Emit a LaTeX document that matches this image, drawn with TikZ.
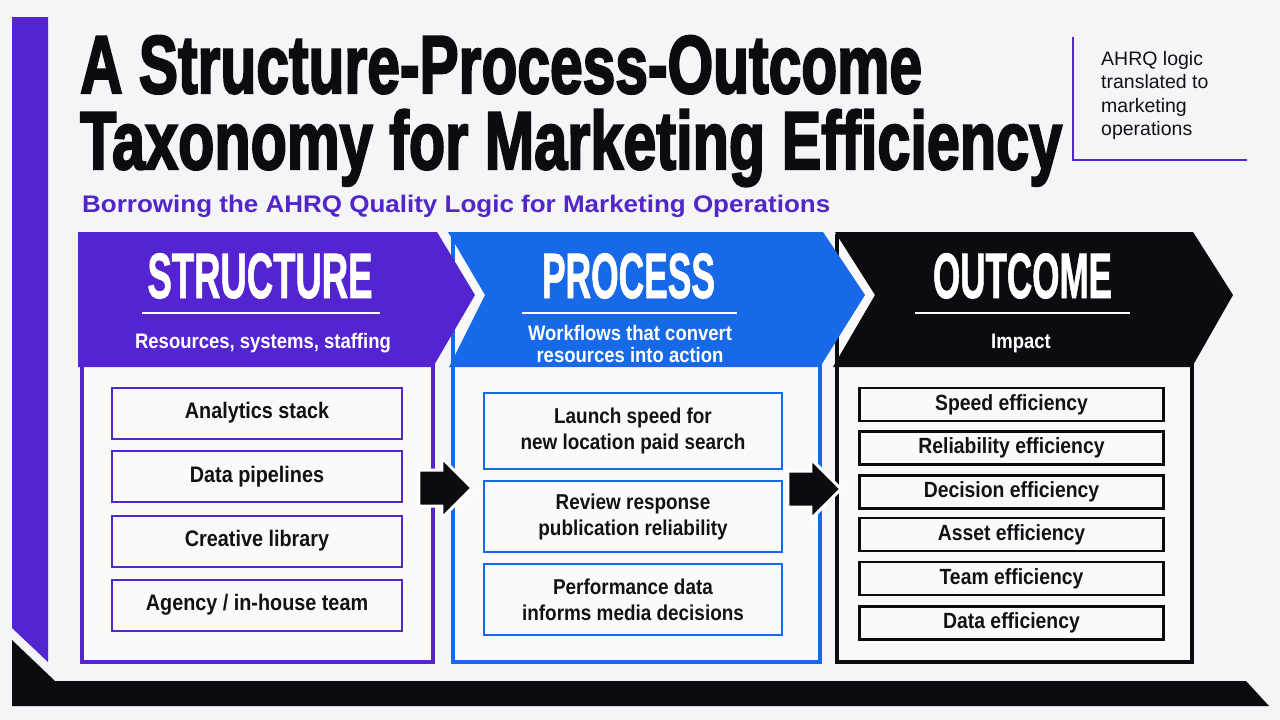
\documentclass[tikz,border=0pt]{standalone}
\usepackage{fontspec}
\usepackage{graphicx}
\setmainfont{Liberation Sans}
\newfontfamily\titlef[BoldFeatures={FakeBold=3}]{Liberation Sans}
\newfontfamily\headf[BoldFeatures={FakeBold=1.5}]{Liberation Sans}
\newfontfamily\bodyf[FakeStretch=0.88]{Liberation Sans}
\newfontfamily\notef{Liberation Sans}
\usetikzlibrary{shapes.arrows}
\definecolor{bg}{HTML}{F4F5F7}
\definecolor{purp}{HTML}{5424D0}
\definecolor{subpurp}{HTML}{5326C8}
\definecolor{blu}{HTML}{1769E8}
\definecolor{ink}{HTML}{0B0B10}
\definecolor{txt}{HTML}{121216}
\definecolor{boxbg}{HTML}{FAFAFB}
\begin{document}
\begin{tikzpicture}[x=1pt,y=-1pt,
  panel/.style={rectangle, line width=4pt, fill=boxbg, inner sep=0pt, anchor=north west},
  sitem/.style={rectangle, draw=purp, line width=2pt, fill=boxbg, minimum width=290pt, minimum height=51pt, inner sep=0pt, text=txt, font=\bodyf\bfseries\fontsize{22.5}{26}\selectfont},
  pitem/.style={rectangle, draw=blu, line width=2pt, fill=boxbg, minimum width=298pt, inner sep=0pt, text=txt, align=center, font=\bodyf\bfseries\fontsize{21.5}{26}\selectfont},
  oitem/.style={rectangle, draw=ink, line width=2.5pt, fill=boxbg, minimum width=304pt, minimum height=33pt, inner sep=0pt, text=txt, font=\bodyf\bfseries\fontsize{22}{26}\selectfont},
  headtxt/.style={inner sep=0pt, anchor=base, text=white},
  subtxt/.style={inner sep=0pt, text=white, align=center, font=\bodyf\bfseries\fontsize{21}{22}\selectfont},
  rule/.style={white, line width=2pt},
  blockarrow/.style={single arrow, fill=ink, draw=white, line width=3pt, inner xsep=0pt, inner ysep=16.5pt, minimum height=53pt, single arrow head extend=12pt, anchor=tip}
]
\useasboundingbox (0,0) rectangle (1280,720);
\fill[bg] (0,0) rectangle (1280,720);

% side and bottom bars
\fill[purp] (12,17) -- (48,17) -- (48,662) -- (12,628) -- cycle;
\fill[ink] (12,640) -- (55,681) -- (1246,681) -- (1269,706) -- (12,706) -- cycle;

% title
\node[anchor=base west, inner sep=0pt, text=ink] (t1) at (80,93)
  {\resizebox{842pt}{\height}{\titlef\bfseries\fontsize{82}{82}\selectfont A Structure-Process-Outcome}};
\node[anchor=base west, inner sep=0pt, text=ink] (t2) at (80,169)
  {\resizebox{982pt}{\height}{\titlef\bfseries\fontsize{82}{82}\selectfont Taxonomy for Marketing Efficiency}};
\node[anchor=base west, inner sep=0pt, text=subpurp] (sub) at (82,212)
  {\resizebox{748pt}{\height}{\notef\bfseries\fontsize{24}{24}\selectfont Borrowing the AHRQ Quality Logic for Marketing Operations}};

% side note
\draw[purp, line width=1.5pt] (1073,37) -- (1073,160) -- (1247,160);
\node[anchor=north west, inner sep=0pt, text=txt, align=left, font=\notef\fontsize{19.5}{23.5}\selectfont] (note) at (1101,51)
  {AHRQ logic\\translated to\\marketing\\operations};

% panels
\node[panel, draw=purp, minimum width=351pt, minimum height=426pt] (sp) at (80,234) {};
\node[panel, draw=blu, minimum width=367pt, minimum height=426pt] (pp) at (451,234) {};
\node[panel, draw=ink, minimum width=355pt, minimum height=426pt] (op) at (835,234) {};

% chevrons
\fill[purp] (78,232) -- (437,232) -- (475,295) -- (433,367) -- (78,367) -- cycle;
\fill[blu] (448,232) -- (823,232) -- (865,295) -- (820,367) -- (449,367) -- (485,295) -- cycle;
\fill[ink] (835,232) -- (1193,232) -- (1233,295) -- (1192,367) -- (833,367) -- (875,295) -- cycle;

% header texts
\node[headtxt] (sh) at (260,298) {\resizebox{225pt}{\height}{\headf\bfseries\fontsize{64}{64}\selectfont STRUCTURE}};
\node[headtxt] (ph) at (628.5,298) {\resizebox{173pt}{\height}{\headf\bfseries\fontsize{64}{64}\selectfont PROCESS}};
\node[headtxt] (oh) at (1022.5,298) {\resizebox{179pt}{\height}{\headf\bfseries\fontsize{64}{64}\selectfont OUTCOME}};
\draw[rule] (142,313) -- (380,313);
\draw[rule] (522,313) -- (737,313);
\draw[rule] (915,313) -- (1130,313);
\node[subtxt, anchor=base] (ss) at (263,348) {Resources, systems, staffing};
\node[subtxt] (ps) at (630,344) {Workflows that convert\\resources into action};
\node[subtxt, anchor=base] (os) at (1021,348) {Impact};

% structure items
\node[sitem] (s1) at (257,413) {Analytics stack};
\node[sitem] (s2) at (257,476.5) {Data pipelines};
\node[sitem] (s3) at (257,541) {Creative library};
\node[sitem] (s4) at (257,605) {Agency / in-house team};

% process items
\node[pitem, minimum height=76pt] (p1) at (633,431) {Launch speed for\\new location paid search};
\node[pitem, minimum height=71pt] (p2) at (633,516.5) {Review response\\publication reliability};
\node[pitem, minimum height=71pt] (p3) at (633,599.5) {Performance data\\informs media decisions};

% outcome items
\node[oitem] (o1) at (1011.5,404.5) {Speed efficiency};
\node[oitem] (o2) at (1011.5,448) {Reliability efficiency};
\node[oitem] (o3) at (1011.5,492) {Decision efficiency};
\node[oitem] (o4) at (1011.5,534.5) {Asset efficiency};
\node[oitem] (o5) at (1011.5,578.5) {Team efficiency};
\node[oitem] (o6) at (1011.5,623) {Data efficiency};

% arrows between panels
\node[blockarrow] (a1) at (474,488) {};
\node[blockarrow] (a2) at (843,489) {};
\end{tikzpicture}
\end{document}
